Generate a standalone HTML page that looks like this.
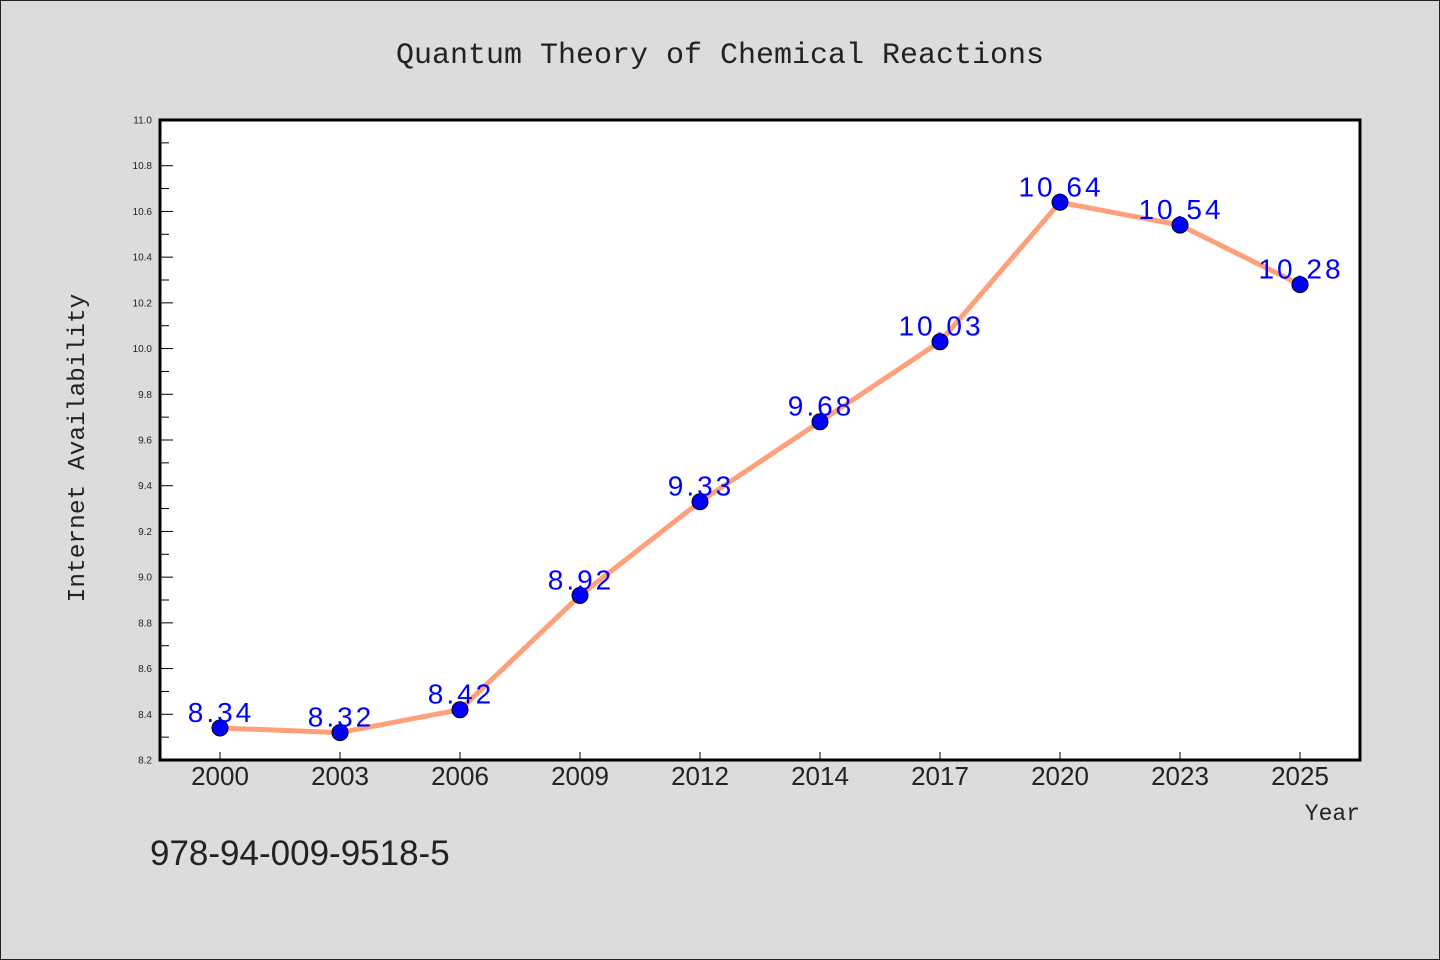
<!DOCTYPE html>
<html><head><meta charset="utf-8"><style>
html,body{margin:0;padding:0;background:#dcdcdc;}
svg{display:block;}
text{font-family:"Liberation Sans",sans-serif;fill:#222;}
.mono{font-family:"Liberation Mono",monospace;}
</style></head><body>
<svg id="chart" width="1440" height="960" xmlns="http://www.w3.org/2000/svg">
<rect x="0.5" y="0.5" width="1439" height="959" fill="#dcdcdc" stroke="#222" stroke-width="1"/>
<text class="mono" x="720" y="63" font-size="30" text-anchor="middle">Quantum Theory of Chemical Reactions</text>
<rect x="160" y="120" width="1200" height="640" fill="#fff"/>
<g id="yaxis"></g>
<g id="xaxis"></g>
<g id="series"></g>
<rect x="160" y="120" width="1200" height="640" fill="none" stroke="#000" stroke-width="3"/>
<text class="mono" transform="translate(84,448) rotate(-90)" font-size="24.5" text-anchor="middle">Internet Availability</text>
<text class="mono" x="1360" y="820" font-size="23" text-anchor="end">Year</text>
<text x="150" y="865" font-size="35">978-94-009-9518-5</text>
</svg>
<script>
const categories = ["2000","2003","2006","2009","2012","2014","2017","2020","2023","2025"];
const values = [8.34,8.32,8.42,8.92,9.33,9.68,10.03,10.64,10.54,10.28];
const valueLabels = ["8.34","8.32","8.42","8.92","9.33","9.68","10.03","10.64","10.54","10.28"];
const yTicks = [8.2,8.4,8.6,8.8,9.0,9.2,9.4,9.6,9.8,10.0,10.2,10.4,10.6,10.8,11.0];

const NS="http://www.w3.org/2000/svg";
const L=160,R=1360,T=120,B=760,yMin=8.2,yMax=11.0;
const band=(R-L)/categories.length;
const x=i=>L+band*(i+0.5);
const y=v=>B-(v-yMin)/(yMax-yMin)*(B-T);
function mk(tag,attrs,parent){const e=document.createElementNS(NS,tag);for(const k in attrs)e.setAttribute(k,attrs[k]);parent.appendChild(e);return e;}
const ya=document.getElementById('yaxis'),xa=document.getElementById('xaxis'),sg=document.getElementById('series');
yTicks.forEach((t,i)=>{
  const yy=y(t);
  const ln=mk('line',{x1:L,x2:L+13,y1:yy,y2:yy,stroke:'#000','stroke-width':1},ya);
  
  
  const tx=mk('text',{x:L-8,y:yy+3.5,'font-size':10,'text-anchor':'end'},ya);
  
  
  tx.textContent=t.toFixed(1);
  if(i<yTicks.length-1){
    const ym=y(t+0.1);
    const mn=mk('line',{x1:L,x2:L+9,y1:ym,y2:ym,stroke:'#000','stroke-width':1},ya);
    
    
  }
});
categories.forEach((c,i)=>{
  const ln=mk('line',{x1:x(i),x2:x(i),y1:B,y2:B-8,stroke:'#000','stroke-width':1},xa);
  
  
  const tx=mk('text',{x:x(i),y:B+25,'font-size':26,'text-anchor':'middle'},xa);
  
  
  tx.textContent=c;
});
const pl=mk('polyline',{points:values.map((v,i)=>x(i)+','+y(v)).join(' '),fill:'none',stroke:'#ffa07a','stroke-width':5,'stroke-linejoin':'round'},sg);


values.forEach((v,i)=>{
  const c=mk('circle',{cx:x(i),cy:y(v),r:8,fill:'#0000ff',stroke:'#000','stroke-width':1},sg);
  
  
});
values.forEach((v,i)=>{
  const t=mk('text',{x:x(i)+1,y:y(v)-6,'font-size':28,'letter-spacing':3,'text-anchor':'middle',style:'fill:#0000ff'},sg);
  
  
  t.textContent=valueLabels[i];
});
</script>
</body></html>
